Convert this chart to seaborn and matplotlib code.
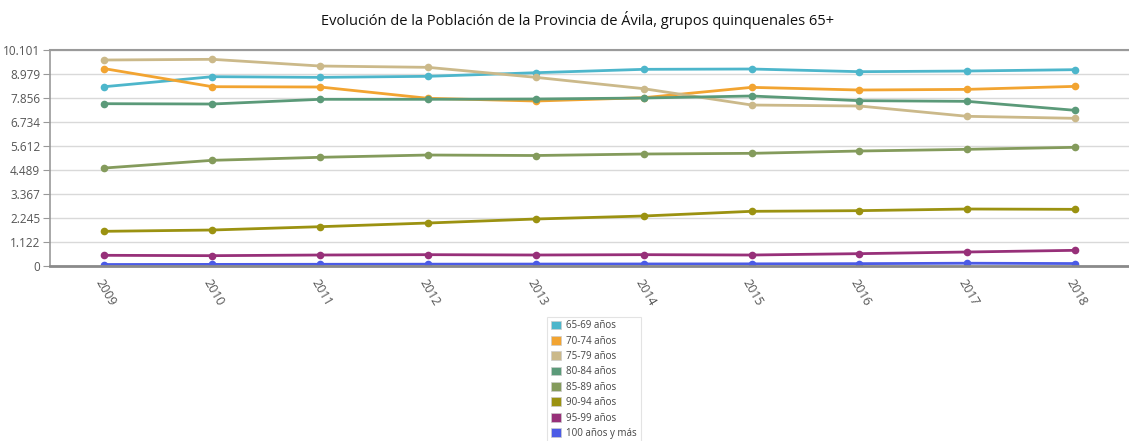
import numpy as np
import pandas as pd
import matplotlib
matplotlib.use("Agg")
import matplotlib.pyplot as plt
from matplotlib.patches import Patch
from matplotlib.ticker import FixedLocator, FixedFormatter
import seaborn as sns

years = ["2009", "2010", "2011", "2012", "2013", "2014", "2015", "2016", "2017", "2018"]
groups = ["65-69 años", "70-74 años", "75-79 años", "80-84 años",
          "85-89 años", "90-94 años", "95-99 años", "100 años y más"]

v65 = [8385, 8853, 8822, 8870, 9039, 9197, 9212, 9087, 9118, 9181]
v70 = [9228, 8385, 8370, 7842, 7715, 7870, 8354, 8230, 8260, 8400]
v75 = [9633, 9665, 9352, 9290, 8822, 8292, 7528, 7482, 7000, 6906]
v80 = [7590, 7575, 7795, 7795, 7809, 7856, 7950, 7731, 7700, 7280]
v85 = [4582, 4942, 5083, 5190, 5167, 5237, 5269, 5377, 5456, 5550]
v90 = [1622, 1683, 1838, 2010, 2198, 2338, 2557, 2588, 2665, 2650]
v95 = [500, 483, 514, 530, 514, 530, 514, 577, 655, 733]
v100 = [70, 75, 80, 85, 90, 95, 100, 110, 130, 115]

colors = ["#4db6cb", "#f2a431", "#cbb98a", "#5b9a79", "#849b5c", "#9b9211", "#973079", "#4b5be6"]

ytick_vals = [0, 1122, 2245, 3367, 4489, 5612, 6734, 7856, 8979, 10101]
ytick_labels = ["0", "1.122", "2.245", "3.367", "4.489", "5.612", "6.734", "7.856", "8.979", "10.101"]

series = [v65, v70, v75, v80, v85, v90, v95, v100]
rows = []
for g, vals in zip(groups, series):
    for i, (yr, v) in enumerate(zip(years, vals)):
        rows.append({"idx": i, "year": yr, "grupo": g, "valor": v})
df = pd.DataFrame(rows)

sns.set_style("white")
plt.rcParams["font.family"] = ["Open Sans", "DejaVu Sans"]

fig = plt.figure(figsize=(11.29, 4.41), dpi=100)
ax = fig.add_axes([50 / 1129, 175 / 441, 1079 / 1129, 216 / 441])

sns.lineplot(data=df, x="idx", y="valor", hue="grupo", hue_order=groups,
             palette=colors, marker="o", markersize=5.5, markeredgewidth=0,
             linewidth=2, ax=ax, legend=False, sort=False)

ax.set_xlim(-0.505, 9.40)
ax.set_ylim(0, 10101)
ax.yaxis.set_major_locator(FixedLocator(ytick_vals))
ax.yaxis.set_major_formatter(FixedFormatter(ytick_labels))
ax.grid(axis="y", color="#d9d9d9", linewidth=1)
ax.set_axisbelow(True)

ax.set_xticks(range(len(years)))
ax.set_xticklabels(years, rotation=-60, ha="left", rotation_mode="anchor",
                   fontsize=9, color="#555555")
ax.tick_params(axis="x", which="major", length=0, pad=8)
ax.set_xticks(np.arange(-0.5, 9.6, 1.0), minor=True)
ax.tick_params(axis="x", which="minor", length=5, color="#aaaaaa", width=1)
ax.tick_params(axis="y", length=5, color="#999999", labelsize=8.5, labelcolor="#555555", pad=2)
ax.yaxis.set_tick_params(direction="out")
ax.tick_params(axis="y", left=True)

ax.spines["right"].set_visible(False)
ax.spines["left"].set_color("#9a9a9a")
ax.spines["left"].set_linewidth(1.2)
ax.spines["bottom"].set_color("#8a8a8a")
ax.spines["bottom"].set_linewidth(2)
ax.spines["top"].set_color("#9a9a9a")
ax.spines["top"].set_linewidth(1.5)
ax.set_xlabel("")
ax.set_ylabel("")

fig.text(578 / 1129, 1 - 20 / 441,
         "Evolución de la Población de la Provincia de Ávila, grupos quinquenales 65+",
         ha="center", va="center", fontsize=10.5, color="#111111")

handles = [Patch(facecolor=c, edgecolor="#cccccc", linewidth=0.5) for c in colors]
leg = fig.legend(handles, groups, loc="upper center", bbox_to_anchor=(594 / 1129, 1 - 312 / 441),
                 frameon=True, fontsize=7, labelcolor="#444444", handlelength=1.0,
                 handleheight=1.0, handletextpad=0.6, labelspacing=0.45,
                 borderpad=0.35, fancybox=False, edgecolor="#dddddd")
leg.get_frame().set_linewidth(0.8)

fig.savefig("out.png", dpi=100)
